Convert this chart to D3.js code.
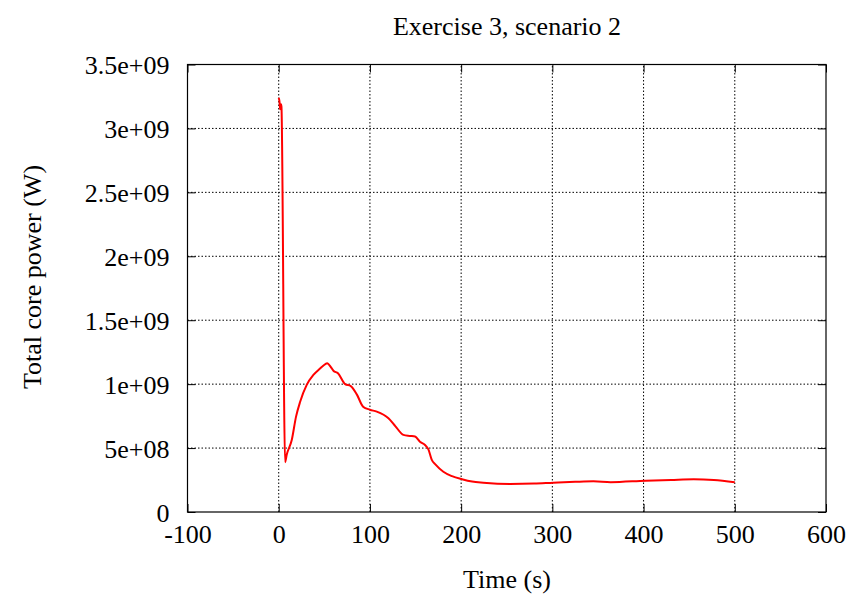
<!DOCTYPE html>
<html><head><meta charset="utf-8">
<script src="https://cdn.jsdelivr.net/npm/d3@7"></script>
<style>body{margin:0;background:#fff}svg{display:block}text{font-family:"Liberation Serif","DejaVu Serif",serif;fill:#000}</style>
</head><body><svg id="c" width="863" height="594"></svg>
<script>
const title = "Exercise 3, scenario 2";
const xLabel = "Time (s)";
const yLabel = "Total core power (W)";
const xTicks = [-100, 0, 100, 200, 300, 400, 500, 600];
const xTickLabels = ["-100", "0", "100", "200", "300", "400", "500", "600"];
const yTicks = [0, 5e8, 1e9, 1.5e9, 2e9, 2.5e9, 3e9, 3.5e9];
const yTickLabels = ["0", "5e+08", "1e+09", "1.5e+09", "2e+09", "2.5e+09", "3e+09", "3.5e+09"];
const time = [0, 1, 1.5, 2.5, 3, 7, 8.7, 14.3, 19, 23.4, 30.7, 38, 45, 51.5, 53, 58, 60, 65, 72.8, 79, 85.6, 92.5, 100, 107.5, 120.3, 128, 136.7, 143.9, 149.5, 154.8, 160.4, 164.1, 167.7, 172, 180.5, 190, 201, 212, 224.3, 253.5, 280, 301, 325, 345, 363.9, 402.3, 430, 455, 477, 500];
const power = [3.24e9, 3.2e9, 3.15e9, 3.19e9, 3.17e9, 0.39e9, 0.446e9, 0.563e9, 0.746e9, 0.86e9, 0.994e9, 1.072e9, 1.12e9, 1.158e9, 1.163e9, 1.125e9, 1.105e9, 1.085e9, 1.0e9, 0.985e9, 0.92e9, 0.824e9, 0.8e9, 0.785e9, 0.733e9, 0.67e9, 0.603e9, 0.595e9, 0.59e9, 0.55e9, 0.524e9, 0.49e9, 0.41e9, 0.37e9, 0.315e9, 0.28e9, 0.256e9, 0.238e9, 0.229e9, 0.219e9, 0.222e9, 0.229e9, 0.236e9, 0.24e9, 0.233e9, 0.245e9, 0.251e9, 0.256e9, 0.25e9, 0.232e9];

const svg = d3.select("#c");
const L = 187.5, R = 826, T = 64.5, B = 512;
const FS = "26px";
const x = d3.scaleLinear().domain([-100, 600]).range([L, R]);
const y = d3.scaleLinear().domain([0, 3.5e9]).range([B, T]);

// grid
const g = svg.append("g");
g.selectAll("line.gx").data(xTicks.slice(1, -1)).join("line")
  .attr("x1", d => x(d)).attr("x2", d => x(d)).attr("y1", B).attr("y2", T)
  .attr("stroke", "#000").attr("stroke-width", 1).attr("stroke-dasharray", "1.5,2");
g.selectAll("line.gy").data(yTicks.slice(1, -1)).join("line")
  .attr("y1", d => y(d)).attr("y2", d => y(d)).attr("x1", L).attr("x2", R)
  .attr("stroke", "#000").attr("stroke-width", 1).attr("stroke-dasharray", "1.5,2");

const styleText = a => a.selectAll("text").attr("font-size", null).attr("font-family", null)
  .style("font-size", FS).style("font-family", "Liberation Serif, serif").attr("fill", "#000");

svg.append("g").attr("transform", `translate(0,${B})`)
  .call(d3.axisBottom(x).tickValues(xTicks).tickFormat(d => xTickLabels[xTicks.indexOf(d)]).tickSizeInner(-8).tickSizeOuter(0))
  .call(a => { a.attr("font-size", null).attr("font-family", null); a.select(".domain").remove(); styleText(a); a.selectAll("text").attr("y", 31).attr("dy", null); });
svg.append("g").attr("transform", `translate(0,${T})`)
  .call(d3.axisTop(x).tickValues(xTicks).tickSizeInner(-8).tickSizeOuter(0).tickFormat(""))
  .call(a => a.select(".domain").remove());
svg.append("g").attr("transform", `translate(${L},0)`)
  .call(d3.axisLeft(y).tickValues(yTicks).tickFormat(d => yTickLabels[yTicks.indexOf(d)]).tickSizeInner(-8).tickSizeOuter(0))
  .call(a => { a.attr("font-size", null).attr("font-family", null); a.select(".domain").remove(); styleText(a); a.selectAll("text").attr("x", -18).attr("dy", "0.35em"); });
svg.append("g").attr("transform", `translate(${R},0)`)
  .call(d3.axisRight(y).tickValues(yTicks).tickSizeInner(-8).tickSizeOuter(0).tickFormat(""))
  .call(a => a.select(".domain").remove());
svg.selectAll(".tick line").attr("stroke", "#000").attr("stroke-width", 1);

svg.append("rect").attr("x", L).attr("y", T).attr("width", R - L).attr("height", B - T)
  .attr("fill", "none").attr("stroke", "#000").attr("stroke-width", 1.2);

// line
const data = time.map((t, i) => [t, power[i]]);
svg.append("path").datum(data)
  .attr("d", d3.line().x(d => x(d[0])).y(d => y(d[1])).curve(d3.curveMonotoneX))
  .attr("fill", "none").attr("stroke", "#ff0000").attr("stroke-width", 2);

svg.append("text").attr("x", 507).attr("y", 35).attr("text-anchor", "middle").style("font-size", FS).text(title);
svg.append("text").attr("x", 507).attr("y", 588).attr("text-anchor", "middle").style("font-size", FS).text(xLabel);
svg.append("text").attr("transform", "translate(41,277) rotate(-90)").attr("text-anchor", "middle").style("font-size", FS).text(yLabel);
</script></body></html>
